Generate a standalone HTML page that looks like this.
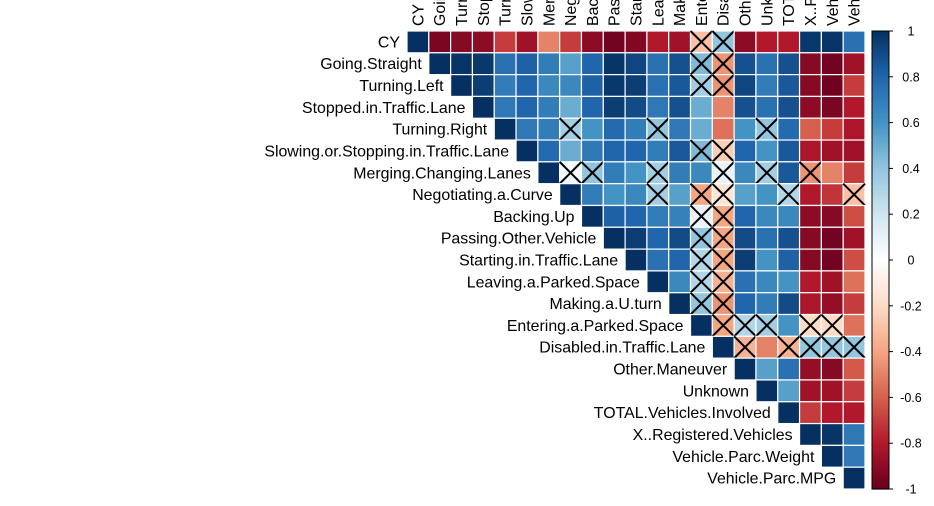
<!DOCTYPE html>
<html><head><meta charset="utf-8"><style>
body{margin:0;background:#fff;}
svg{display:block;font-family:"Liberation Sans",sans-serif;}
</style></head><body>
<svg id="chart" width="934" height="506"></svg>
<script>
const labels=["CY","Going.Straight","Turning.Left","Stopped.in.Traffic.Lane","Turning.Right","Slowing.or.Stopping.in.Traffic.Lane","Merging.Changing.Lanes","Negotiating.a.Curve","Backing.Up","Passing.Other.Vehicle","Starting.in.Traffic.Lane","Leaving.a.Parked.Space","Making.a.U.turn","Entering.a.Parked.Space","Disabled.in.Traffic.Lane","Other.Maneuver","Unknown","TOTAL.Vehicles.Involved","X..Registered.Vehicles","Vehicle.Parc.Weight","Vehicle.Parc.MPG"];
// upper triangle rows (values from column i+1 onward); "x" suffix = insignificant
const r0=[-0.95,-0.92,-0.9,-0.7,-0.85,-0.5,-0.7,-0.9,-0.97,-0.93,-0.8,-0.85,"-0.3x","0.4x",-0.9,-0.8,-0.8,0.97,0.98,0.75];
const r1=[0.98,0.97,0.75,0.82,0.7,0.55,0.8,0.98,0.92,0.75,0.88,"0.45x","-0.45x",0.88,0.75,0.88,-0.92,-0.97,-0.85];
const r2=[0.95,0.7,0.8,0.65,0.65,0.82,0.97,0.95,0.75,0.85,"0.35x","-0.45x",0.92,0.7,0.85,-0.92,-0.98,-0.7];
const r3=[0.72,0.8,0.7,0.5,0.8,0.95,0.9,0.72,0.88,0.5,-0.5,0.88,0.75,0.88,-0.9,-0.95,-0.8];
const r4=[0.72,0.7,"0.35x",0.6,0.78,0.7,"0.4x",0.72,0.5,-0.55,0.6,"0.4x",0.78,-0.6,-0.7,-0.82];
const r5=[0.78,0.5,0.72,0.8,0.8,0.7,0.85,"0.45x","-0.25x",0.8,0.6,0.85,-0.82,-0.85,-0.85];
const r6=["0.05x","0.4x",0.7,0.6,"0.35x",0.7,0.65,"0.1x",0.65,"0.35x",0.85,"-0.45x",-0.5,-0.7];
const r7=[0.7,0.6,0.65,"0.35x",0.55,"-0.4x","-0.15x",0.55,0.6,"0.3x",-0.8,-0.72,"-0.3x"];
const r8=[0.82,0.8,0.7,0.68,"0.1x","-0.4x",0.8,0.65,0.65,-0.9,-0.92,-0.65];
const r9=[0.95,0.8,0.9,"0.4x","-0.4x",0.9,0.75,0.88,-0.92,-0.97,-0.85];
const r10=[0.75,0.8,"0.3x","-0.4x",0.95,0.6,0.82,-0.92,-0.97,-0.65];
const r11=[0.65,"0.3x","-0.35x",0.75,0.65,0.6,-0.8,-0.85,-0.55];
const r12=["0.4x","-0.45x",0.8,0.7,0.9,-0.82,-0.88,-0.7];
const r13=["-0.4x","0.3x","0.35x",0.6,"-0.2x","-0.2x",-0.55];
const r14=["-0.35x",-0.5,"-0.35x","0.4x","0.4x","0.4x"];
const r15=[0.55,0.75,-0.88,-0.92,-0.62];
const r16=[0.55,-0.85,-0.85,-0.7];
const r17=[-0.7,-0.8,-0.8];
const r18=[0.98,0.72];
const r19=[0.72];
const rows=[r0,r1,r2,r3,r4,r5,r6,r7,r8,r9,r10,r11,r12,r13,r14,r15,r16,r17,r18,r19,[]];
const ticks=[1,0.8,0.6,0.4,0.2,0,-0.2,-0.4,-0.6,-0.8,-1];

const stops=["#67001F","#B2182B","#D6604D","#F4A582","#FDDBC7","#FFFFFF","#D1E5F0","#92C5DE","#4393C3","#2166AC","#053061"];
function hex(h){return [1,3,5].map(i=>parseInt(h.substr(i,2),16));}
function col(v){const t=(v+1)/2*10;const i=Math.min(9,Math.floor(t));const f=t-i;const a=hex(stops[i]),b=hex(stops[i+1]);return "rgb("+a.map((c,k)=>Math.round(c+(b[k]-c)*f)).join(",")+")";}
const N=21,X0=407,Y0=31,C=(865-407)/21;
const xs=j=>X0+j*C, ys=i=>Y0+i*C;
const svg=document.getElementById('chart');
const NS="http://www.w3.org/2000/svg";
function mk(t,a){const e=document.createElementNS(NS,t);for(const k in a)e.setAttribute(k,a[k]);svg.appendChild(e);return e;}
for(let i=0;i<N;i++){
  const vals=[1].concat(rows[i]);
  vals.forEach((raw,k)=>{
    const j=i+k;const s=String(raw);const ins=s.endsWith("x");const v=parseFloat(s);
    const r=mk('rect',{x:xs(j),y:ys(i),width:C,height:C,fill:col(v),stroke:'#fff','stroke-width':1.2});
    
    
    if(ins){
      const p=mk('path',{d:`M${xs(j)},${ys(i)}L${xs(j)+C},${ys(i)+C}M${xs(j)+C},${ys(i)}L${xs(j)},${ys(i)+C}`,stroke:'#000','stroke-width':2,fill:'none'});
      
      
    }
  });
  const t=mk('text',{x:xs(i)-7,y:ys(i)+C/2+5.5,'text-anchor':'end','font-size':15.9,fill:'#000'});
  t.textContent=labels[i];
  
  
  const c=mk('text',{transform:`translate(${xs(i)+C/2+5.5},${Y0-5}) rotate(-90)`,'font-size':15.9,fill:'#000'});
  c.textContent=labels[i];
  
  
}
// colorbar
const CBX=872,CBW=17,CBT=31,CBB=489;
for(let k=0;k<200;k++){
  const v=1-(k+0.5)/100;
  const r=mk('rect',{x:CBX,y:CBT+k*(CBB-CBT)/200,width:CBW,height:(CBB-CBT)/200+0.6,fill:col(v)});
  
  
}
const fr=mk('rect',{x:CBX,y:CBT,width:CBW,height:CBB-CBT,fill:'none',stroke:'#000','stroke-width':1});


ticks.forEach(v=>{
  const y=CBT+(1-v)/2*(CBB-CBT);
  const l=mk('line',{x1:CBX+CBW,x2:CBX+CBW+4,y1:y,y2:y,stroke:'#000'});
  
  
  const t=mk('text',{x:911,y:y+4.5,'text-anchor':'middle','font-size':12.5,fill:'#000'});
  t.textContent=String(v);
  
  
});
</script>
</body></html>
